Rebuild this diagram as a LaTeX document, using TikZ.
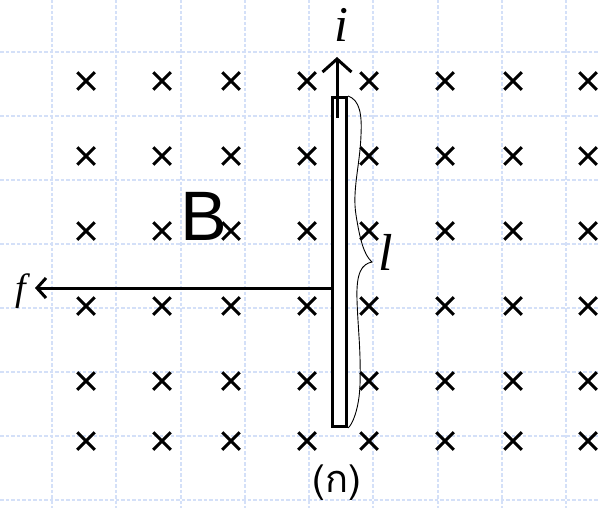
\documentclass[tikz,border=0pt]{standalone}
\usepackage{fontspec}
\setmainfont{Liberation Serif}
\newfontfamily\thaifont[Script=Thai]{Loma}
\newfontfamily\arialfont{Liberation Sans}
\usetikzlibrary{positioning,arrows.meta,shapes.misc}
\definecolor{gridblue}{HTML}{D4E0F8}

\begin{document}
\begin{tikzpicture}[x=1pt, y=-1pt,
    gridline/.style={draw=gridblue, line width=1.3pt, dash pattern=on 3.5pt off 2pt},
    bcross/.style={cross out, draw, line width=3pt, minimum size=14.5pt, inner sep=0pt},
    rodbox/.style={draw, fill=white, line width=3pt, minimum width=14pt, minimum height=329pt, inner sep=0pt},
    every node/.style={inner sep=0pt}]
        \useasboundingbox (0,0) rectangle (599,508);

        % Background grid
        \foreach \gx in {52,116,181,245,309,373,438,502,566}
          \draw[gridline] (\gx,0) -- (\gx,508);
        \foreach \gy in {52,116,180,244,308,372,436,500}
          \draw[gridline] (0,\gy) -- (599,\gy);

        % Field into the page
        \foreach \cx [count=\ci] in {86,162,231,307,369,445,513,588}
          \foreach \cy [count=\ri] in {81,156,231,306,381,441}
            \node[bcross] (b\ri\ci) at (\cx,\cy) {};

        % Conductor
        \node[rodbox] (rod) at (339.5,262) {};

        % Current
        \coordinate (ibase) at (337,118);
        \coordinate (itip) at (337,57);
        \draw[line width=3pt, -{Straight Barb[length=13pt, width=29pt, line width=3pt]}] (ibase) -- (itip);
        \node (ilabel) [anchor=base] at (341,42) {\fontsize{50}{54}\selectfont\itshape i};

        % Force
        \coordinate (fstart) at (rod.west |- 0,288);
        \coordinate (ftip) at (35,288);
        \draw[line width=3pt, -{Straight Barb[length=9pt, width=20pt, line width=3pt]}] (fstart) -- (ftip);
        \node (flabel) [anchor=base] at (21,300) {\fontsize{38}{42}\selectfont\itshape f};

        % Length brace
        \draw[line width=0.9pt] (rod.north east)
          .. controls (360,100) and (362,115) .. (361,135)
          .. controls (360,165) and (352,190) .. (356,215)
          .. controls (360,240) and (364,255) .. (372,262)
          .. controls (362,264) and (356,272) .. (357,300)
          .. controls (358,330) and (361,350) .. (360,385)
          .. controls (359,410) and (352,425) .. (rod.south east);
        \node (llabel) [anchor=base] at (386,270) {\fontsize{52}{56}\selectfont\itshape l};

        \node (blabel) [anchor=base] at (204,240) {\arialfont\fontsize{70}{74}\selectfont B};
        \node (caption) [anchor=base] at (337,492) {\thaifont\fontsize{38}{40}\selectfont (ก)};
      \end{tikzpicture}
\end{document}
